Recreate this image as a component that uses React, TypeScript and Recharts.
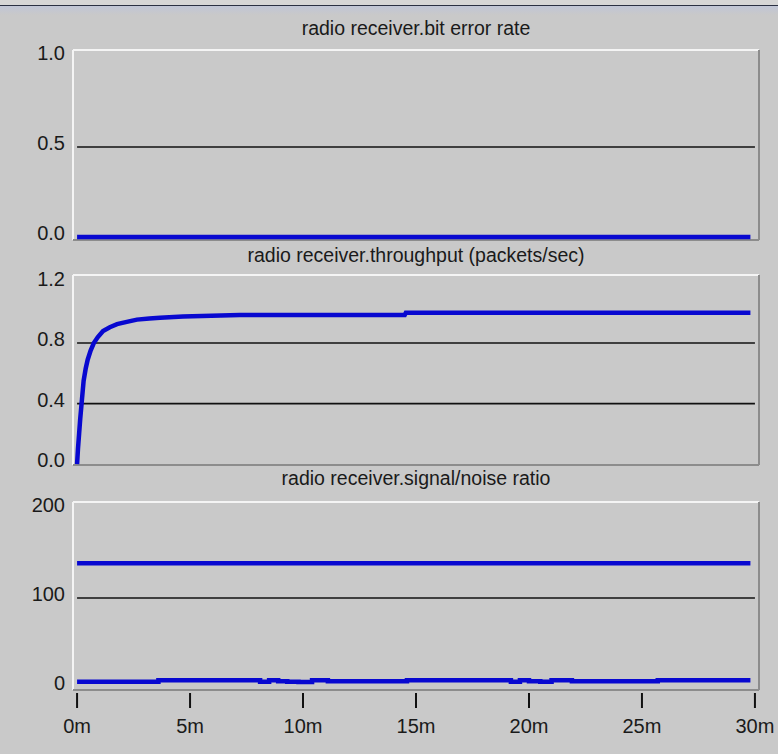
import React from "react";
import { LineChart, Line, XAxis, YAxis, ReferenceLine } from "recharts";

// ---- data (time in minutes) ----
const berTime = [0, 29.8];
const berValue = [0, 0];

const throughputTime = [0, 0.04, 0.09, 0.14, 0.2, 0.29, 0.38, 0.47, 0.6, 0.74, 0.92, 1.15, 1.45, 1.77, 2.2, 2.65, 3.2, 3.67, 4.69, 7.2, 14.5, 14.55, 29.8];
const throughputValue = [0, 0.1, 0.2, 0.3, 0.4, 0.55, 0.63, 0.69, 0.75, 0.8, 0.84, 0.88, 0.905, 0.925, 0.94, 0.955, 0.963, 0.968, 0.975, 0.985, 0.985, 1.0, 1.0];

const snrHighTime = [0, 29.8];
const snrHighValue = [139, 139];

const snrLowTime = [0, 3.6, 8.1, 8.5, 8.9, 9.3, 9.8, 10.4, 11.1, 14.6, 19.2, 19.6, 20.0, 20.5, 21.0, 21.9, 25.7, 29.8];
const snrLowValue = [6, 7.5, 6, 7.5, 6.5, 6, 5.5, 7.5, 6.5, 7.5, 6, 7.5, 6.5, 6, 7.5, 6.5, 7.5, 7.5];

const xTicks = [0, 5, 10, 15, 20, 25, 30];
const berTicks = [0, 0.5, 1.0];
const throughputTicks = [0, 0.4, 0.8, 1.2];
const snrTicks = [0, 100, 200];

const berGrid = [0.5];
const throughputGrid = [0.4, 0.8];
const snrGrid = [100];

const titles = [
  "radio receiver.bit error rate",
  "radio receiver.throughput (packets/sec)",
  "radio receiver.signal/noise ratio",
];

const toPoints = (t: number[], v: number[]) => t.map((x, i) => ({ t: x, v: v[i] }));

const BG = "#c9c9c9";
const BLUE = "#0808d0";
const FONT = "'Liberation Sans', Arial, sans-serif";
const X_DOMAIN: [number, number] = [-0.18, 30.18];

const YTick = (props: any) => {
  const { x, y, payload, fmt } = props;
  return (
    <text x={x} y={y + 3} textAnchor="end" fontSize={20} fontFamily={FONT} fill="#1a1a1a">
      {fmt(payload.value)}
    </text>
  );
};

const XTick = (props: any) => {
  const { x, y, payload } = props;
  return (
    <g>
      <line x1={x} x2={x} y1={y + 3} y2={y + 18} stroke="#111" strokeWidth={2} />
      <text x={x} y={y + 43} textAnchor="middle" fontSize={20} fontFamily={FONT} fill="#1a1a1a">
        {`${payload.value}m`}
      </text>
    </g>
  );
};

type PanelProps = {
  top: number;
  height: number;
  marginTop: number;
  marginBottom: number;
  domain: [number, number];
  ticks: number[];
  grid: number[];
  fmt: (v: number) => string;
  series: { data: { t: number; v: number }[]; step: boolean }[];
  showX: boolean;
};

const Panel = ({ top, height, marginTop, marginBottom, domain, ticks, grid, fmt, series, showX }: PanelProps) => (
  <div style={{ position: "absolute", left: 0, top, width: 778, height }}>
    <LineChart
      width={778}
      height={height}
      margin={{ top: marginTop, right: 19, bottom: marginBottom, left: 0 }}
    >
      <XAxis
        type="number"
        dataKey="t"
        domain={X_DOMAIN}
        ticks={xTicks}
        allowDataOverflow
        hide={!showX}
        axisLine={false}
        tickLine={false}
        tickSize={0}
        tickMargin={0}
        height={showX ? 64 : 0}
        interval={0}
        tick={<XTick />}
      />
      <YAxis
        type="number"
        domain={domain}
        ticks={ticks}
        allowDataOverflow
        width={73}
        axisLine={false}
        tickLine={false}
        tickSize={0}
        tickMargin={8}
        interval={0}
        tick={<YTick fmt={fmt} />}
      />
      {grid.map((g) => (
        <ReferenceLine
          key={g}
          segment={[{ x: 0, y: g }, { x: 30, y: g }]}
          stroke="#101010"
          strokeWidth={1.6}
        />
      ))}
      <ReferenceLine y={domain[1]} stroke="#f4f4f4" strokeWidth={2} />
      <ReferenceLine x={X_DOMAIN[0]} stroke="#f4f4f4" strokeWidth={2} />
      <ReferenceLine y={domain[0]} stroke="#8c8c8c" strokeWidth={2} />
      <ReferenceLine x={X_DOMAIN[1]} stroke="#8c8c8c" strokeWidth={2} />
      {series.map((s, i) => (
        <Line
          key={i}
          data={s.data}
          dataKey="v"
          type={s.step ? "stepAfter" : "linear"}
          stroke={BLUE}
          strokeWidth={4.5}
          dot={false}
          isAnimationActive={false}
        />
      ))}
    </LineChart>
  </div>
);

const Title = ({ text, top }: { text: string; top: number }) => (
  <div
    style={{
      position: "absolute",
      left: 73,
      width: 686,
      top,
      textAlign: "center",
      fontFamily: FONT,
      fontSize: 19.5,
      lineHeight: "20px",
      color: "#1a1a1a",
      whiteSpace: "nowrap",
    }}
  >
    {text}
  </div>
);

export default function App() {
  return (
    <div
      style={{
        position: "absolute",
        left: 0,
        top: 0,
        width: 778,
        height: 754,
        background: BG,
        overflow: "hidden",
      }}
    >
      <div style={{ position: "absolute", left: 0, top: 0, width: 778, height: 5, background: "#d6d6d6" }} />
      <div style={{ position: "absolute", left: 0, top: 5, width: 778, height: 1.5, background: "#2a3042" }} />
      <div
        style={{
          position: "absolute",
          left: 0,
          top: 6,
          width: 778,
          height: 9,
          background: "linear-gradient(#c0c5d6, #c9c9c9)",
        }}
      />
      <Title text={titles[0]} top={18} />
      <Title text={titles[1]} top={245} />
      <Title text={titles[2]} top={468} />
      <Panel
        top={0}
        height={245}
        marginTop={50}
        marginBottom={5}
        domain={[-0.017, 1.039]}
        ticks={berTicks}
        grid={berGrid}
        fmt={(v) => v.toFixed(1)}
        series={[{ data: toPoints(berTime, berValue), step: false }]}
        showX={false}
      />
      <Panel
        top={245}
        height={225}
        marginTop={30}
        marginBottom={5}
        domain={[-0.006, 1.25]}
        ticks={throughputTicks}
        grid={throughputGrid}
        fmt={(v) => v.toFixed(1)}
        series={[{ data: toPoints(throughputTime, throughputValue), step: false }]}
        showX={false}
      />
      <Panel
        top={470}
        height={284}
        marginTop={32}
        marginBottom={0}
        domain={[-3.4, 208]}
        ticks={snrTicks}
        grid={snrGrid}
        fmt={(v) => String(v)}
        series={[
          { data: toPoints(snrHighTime, snrHighValue), step: false },
          { data: toPoints(snrLowTime, snrLowValue), step: true },
        ]}
        showX={true}
      />
    </div>
  );
}
